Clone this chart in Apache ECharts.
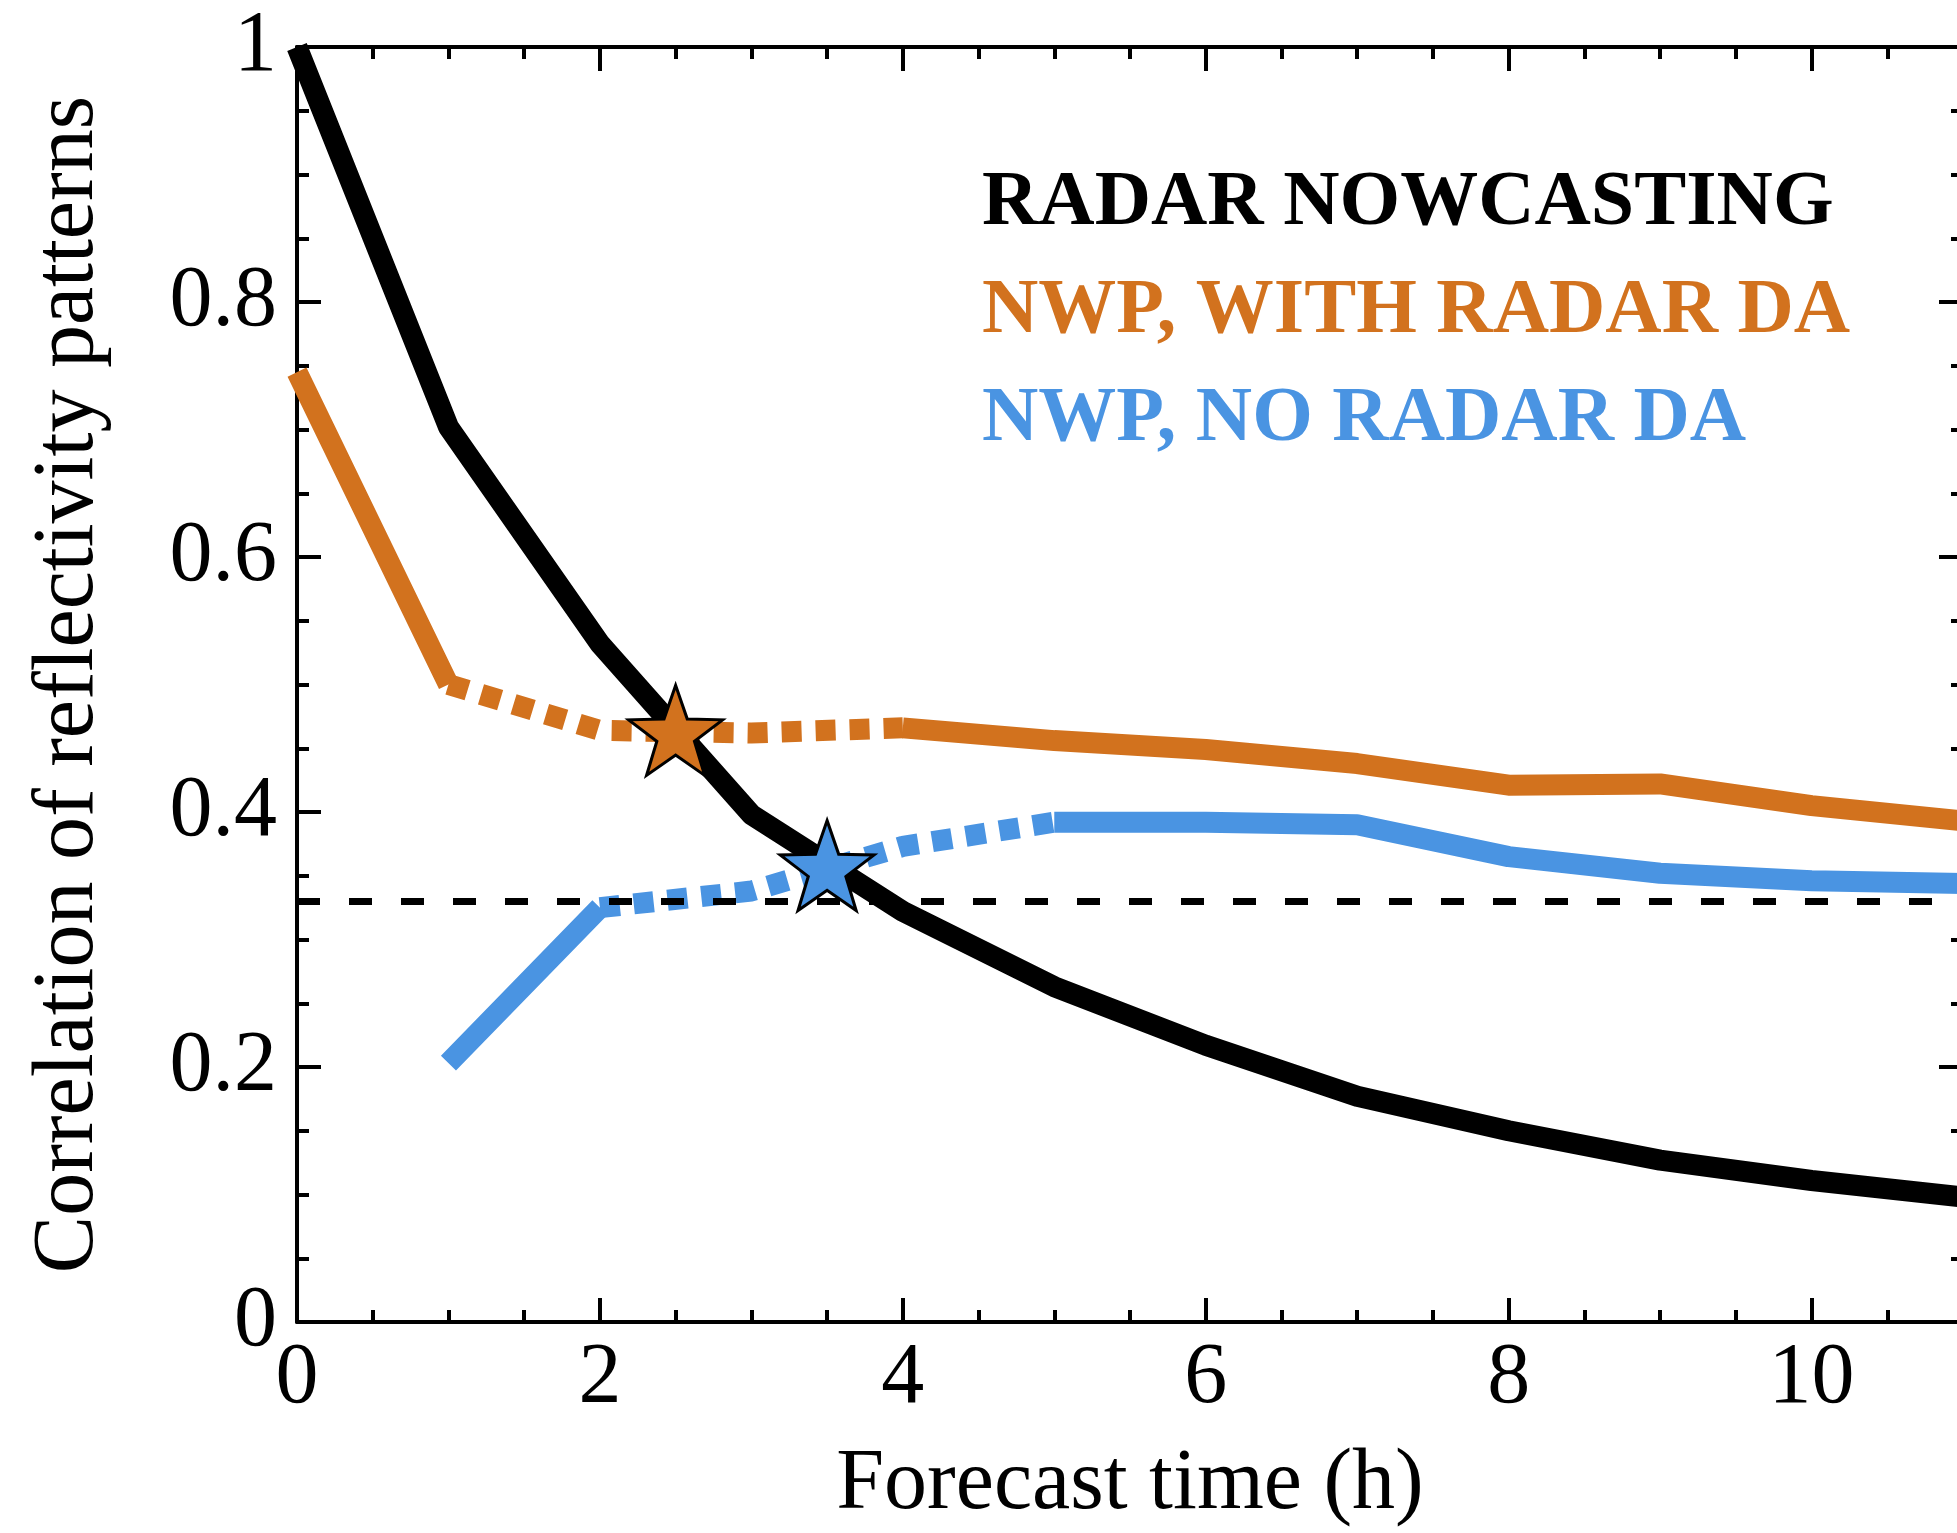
<!DOCTYPE html>
<html>
<head>
<meta charset="utf-8">
<title>Correlation of reflectivity patterns</title>
<script src="https://cdn.jsdelivr.net/npm/echarts@6/dist/echarts.min.js"></script>
<style>
  html, body { margin: 0; padding: 0; background: #fff; overflow: hidden; }
  #chart { width: 1990px; height: 1533px; }
</style>
</head>
<body>
<div id="chart"></div>
<script>
// Forecast lead time (hours)
const hours = [0, 1, 2, 3, 4, 5, 6, 7, 8, 9, 10, 11];

// Pattern correlation of each forecast type
const nowcasting  = [1.000, 0.702, 0.532, 0.398, 0.322, 0.263, 0.217, 0.177, 0.150, 0.127, 0.111, 0.098];
const withRadarDA = [0.745, 0.500, 0.464, 0.462, 0.466, 0.456, 0.449, 0.438, 0.421, 0.422, 0.405, 0.393];
const noRadarDA   = [null,  0.203, 0.325, 0.338, 0.373, 0.392, 0.392, 0.390, 0.365, 0.352, 0.346, 0.344];

// Index ranges drawn dotted (model spin-up period)
const withRadarDASpinUp = [1, 4];
const noRadarDASpinUp   = [2, 5];

// Points where NWP overtakes radar nowcasting
const withRadarDACrossing = [2.5, 0.464];
const noRadarDACrossing   = [3.5, 0.358];

// Skill threshold (dashed reference)
const skillThreshold = 0.334;

// Legend labels
const legendNames = ['RADAR NOWCASTING', 'NWP, WITH RADAR DA', 'NWP, NO RADAR DA'];

const BLACK = '#000000';
const ORANGE = '#D2721E';
const BLUE = '#4A94E2';
const FONT = '"Liberation Serif", "Times New Roman", serif';

// Split a series into the solid part and the dotted part
function pick(values, range, dotted) {
  return hours.map(function (h, i) {
    const inside = i >= range[0] && i <= range[1];
    const keep = dotted ? inside : (i <= range[0] || i >= range[1]);
    return [h, keep ? values[i] : null];
  });
}
function full(values) {
  return hours.map(function (h, i) { return [h, values[i]]; });
}

const STAR = 'path://M50,0L61.76,33.82L97.55,34.55L69.02,56.18L79.39,90.45L50,70L20.61,90.45L30.98,56.18L2.45,34.55L38.24,33.82Z';

const axisLine = { show: true, onZero: false, lineStyle: { color: BLACK, width: 4 } };
const noSplit = { show: false };

function xAxis(position, interval, tickLen, withLabels) {
  const ax = {
    type: 'value', min: 0, max: 11, interval: interval, position: position,
    axisLine: tickLen > 20 ? axisLine : { show: false, onZero: false },
    axisTick: { show: true, inside: true, length: tickLen, lineStyle: { color: BLACK, width: 4 } },
    axisLabel: { show: false },
    splitLine: noSplit
  };
  if (withLabels) {
    ax.axisLabel = {
      show: true, showMaxLabel: false, margin: 14,
      color: BLACK, fontFamily: FONT, fontSize: 86
    };
    ax.name = 'Forecast time (h)';
    ax.nameLocation = 'middle';
    ax.nameGap = 120;
    ax.nameTextStyle = { color: BLACK, fontFamily: FONT, fontSize: 86 };
  }
  return ax;
}

function yAxis(position, withLabels) {
  const ax = {
    type: 'value', min: 0, max: 1, interval: 0.2, position: position,
    axisLine: axisLine,
    axisTick: { show: true, inside: true, length: 24, lineStyle: { color: BLACK, width: 4 } },
    minorTick: { show: true, splitNumber: 4, length: 12, lineStyle: { color: BLACK, width: 4 } },
    axisLabel: { show: false },
    splitLine: noSplit,
    minorSplitLine: noSplit
  };
  if (withLabels) {
    ax.axisLabel = { show: true, margin: 20, color: BLACK, fontFamily: FONT, fontSize: 86 };
    ax.name = 'Correlation of reflectivity patterns';
    ax.nameLocation = 'middle';
    ax.nameGap = 185;
    ax.nameTextStyle = { color: BLACK, fontFamily: FONT, fontSize: 86 };
  }
  return ax;
}

function lineSeries(name, data, color, dotted, z) {
  return {
    name: name, type: 'line', data: data,
    xAxisIndex: 0, yAxisIndex: 0,
    symbol: 'none', connectNulls: false, silent: true, z: z,
    lineStyle: {
      color: color, width: 21,
      type: dotted ? [20, 14] : 'solid',
      cap: 'butt', join: 'round'
    },
    itemStyle: { color: color }
  };
}

const chart = echarts.init(document.getElementById('chart'), null, { renderer: 'canvas' });

chart.setOption({
  animation: false,
  backgroundColor: '#ffffff',
  grid: { left: 297, top: 47, right: 27, bottom: 198, containLabel: false },
  legend: {
    orient: 'vertical', left: 972, top: 160,
    icon: 'none', itemWidth: 0, itemHeight: 10, itemGap: 30,
    selectedMode: false,
    textStyle: { fontFamily: FONT, fontSize: 78, fontWeight: 'bold', lineHeight: 78 },
    data: [
      { name: legendNames[0], textStyle: { color: BLACK } },
      { name: legendNames[1], textStyle: { color: ORANGE } },
      { name: legendNames[2], textStyle: { color: BLUE } }
    ]
  },
  xAxis: [
    xAxis('bottom', 2, 24, true),
    xAxis('bottom', 0.5, 12, false),
    xAxis('top', 2, 24, false),
    xAxis('top', 0.5, 12, false)
  ],
  yAxis: [
    yAxis('left', true),
    yAxis('right', false)
  ],
  series: [
    Object.assign(lineSeries(legendNames[0], full(nowcasting), BLACK, false, 4), {
      markLine: {
        silent: true, symbol: 'none', label: { show: false },
        lineStyle: { color: BLACK, width: 7, type: [23, 29], cap: 'butt' },
        data: [{ yAxis: skillThreshold }]
      }
    }),
    lineSeries(legendNames[1], pick(withRadarDA, withRadarDASpinUp, false), ORANGE, false, 3),
    lineSeries('NWP, WITH RADAR DA (spin-up)', pick(withRadarDA, withRadarDASpinUp, true), ORANGE, true, 3),
    lineSeries(legendNames[2], pick(noRadarDA, noRadarDASpinUp, false), BLUE, false, 3),
    lineSeries('NWP, NO RADAR DA (spin-up)', pick(noRadarDA, noRadarDASpinUp, true), BLUE, true, 3),
    {
      name: 'crossing with radar DA', type: 'scatter', z: 10, silent: true,
      data: [withRadarDACrossing],
      symbol: STAR, symbolSize: [94, 90],
      itemStyle: { color: ORANGE, borderColor: BLACK, borderWidth: 3, opacity: 1 }
    },
    {
      name: 'crossing without radar DA', type: 'scatter', z: 10, silent: true,
      data: [noRadarDACrossing],
      symbol: STAR, symbolSize: [94, 90],
      itemStyle: { color: BLUE, borderColor: BLACK, borderWidth: 3, opacity: 1 }
    }
  ]
});
</script>
</body>
</html>
